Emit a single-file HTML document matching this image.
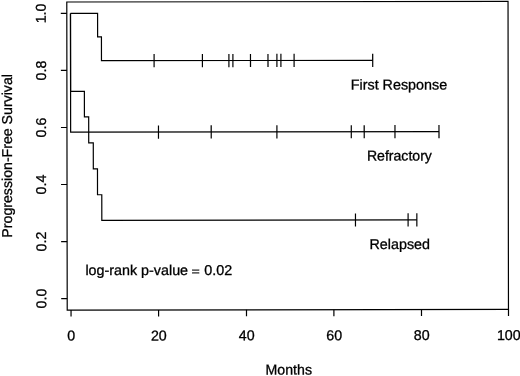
<!DOCTYPE html>
<html lang="en"><head><meta charset="utf-8"><title>Progression-Free Survival</title>
<style>html,body{margin:0;padding:0;background:#fff;overflow:hidden}svg{display:block}</style></head>
<body>
<svg width="520" height="376" viewBox="0 0 520 376">
<rect width="520" height="376" fill="#fff"/>
<g transform="rotate(-0.08 287.5 155.8)">
<g fill="none" stroke="#000" stroke-width="1.2" stroke-linecap="butt" stroke-linejoin="miter">
<rect x="67.0" y="1.7" width="441.25" height="308.05"/>
<path d="M70.83 309.75V316.25"/>
<path d="M158.38 309.75V316.25"/>
<path d="M246.28 309.75V316.25"/>
<path d="M333.68 309.75V316.25"/>
<path d="M421.28 309.75V316.25"/>
<path d="M508.28 309.75V316.25"/>
<path d="M67.0 298.25H61.0"/>
<path d="M67.0 241.23H61.0"/>
<path d="M67.0 184.2H61.0"/>
<path d="M67.0 127.18H61.0"/>
<path d="M67.0 70.15H61.0"/>
<path d="M67.0 13.13H61.0"/>
<path d="M70.68 13.13H97.78V36.7H101.6V60.45H372.83"/>
<path d="M154.23 53.85V67.05"/>
<path d="M202.53 53.85V67.05"/>
<path d="M229.03 53.85V67.05"/>
<path d="M233.03 53.85V67.05"/>
<path d="M250.63 53.85V67.05"/>
<path d="M268.13 53.85V67.05"/>
<path d="M277.03 53.85V67.05"/>
<path d="M281.03 53.85V67.05"/>
<path d="M294.23 53.85V67.05"/>
<path d="M372.83 53.85V67.05"/>
<path d="M70.68 13.13V131.85H439.03"/>
<path d="M158.5 125.25V138.45"/>
<path d="M211.23 125.25V138.45"/>
<path d="M276.93 125.25V138.45"/>
<path d="M351.33 125.25V138.45"/>
<path d="M364.23 125.25V138.45"/>
<path d="M395.0 125.25V138.45"/>
<path d="M439.03 125.25V138.45"/>
<path d="M70.68 13.13V91.15H84.47V116.5H88.74V142.6H93.3V168.63H97.46V194.5H101.73V220.1H416.76"/>
<path d="M355.37 213.5V226.7"/>
<path d="M408.0 213.5V226.7"/>
<path d="M416.76 213.5V226.7"/>
</g>
<g font-family="'Liberation Sans', Arial, Helvetica, sans-serif" font-size="14.25" fill="#000" stroke="#000" stroke-width="0.3">
<text x="71.08" y="340.3" text-anchor="middle">0</text>
<text x="158.63" y="340.3" text-anchor="middle">20</text>
<text x="246.53" y="340.3" text-anchor="middle">40</text>
<text x="333.93" y="340.3" text-anchor="middle">60</text>
<text x="421.53" y="340.3" text-anchor="middle">80</text>
<text x="508.53" y="340.3" text-anchor="middle">100</text>
<text transform="translate(46 298.25) rotate(-90)" text-anchor="middle">0.0</text>
<text transform="translate(46 241.23) rotate(-90)" text-anchor="middle">0.2</text>
<text transform="translate(46 184.2) rotate(-90)" text-anchor="middle">0.4</text>
<text transform="translate(46 127.18) rotate(-90)" text-anchor="middle">0.6</text>
<text transform="translate(46 70.15) rotate(-90)" text-anchor="middle">0.8</text>
<text transform="translate(46 13.13) rotate(-90)" text-anchor="middle">1.0</text>
<text transform="translate(12 155.45) rotate(-90)" text-anchor="middle" textLength="163.6" lengthAdjust="spacingAndGlyphs">Progression-Free Survival</text>
<text x="265.25" y="374.5" textLength="46.4" lengthAdjust="spacingAndGlyphs">Months</text>
<text x="350.9" y="89.6" textLength="96.3" lengthAdjust="spacingAndGlyphs">First Response</text>
<text x="366.9" y="160.7" textLength="65" lengthAdjust="spacingAndGlyphs">Refractory</text>
<text x="369.4" y="249.2" textLength="60.5" lengthAdjust="spacingAndGlyphs">Relapsed</text>
<text x="85.25" y="274.8" textLength="102.65" lengthAdjust="spacingAndGlyphs">log-rank p-value</text>
<text transform="translate(191.3 275) scale(1 0.8)">=</text>
<text x="204" y="274.8" textLength="28" lengthAdjust="spacingAndGlyphs">0.02</text>
</g></g></svg>
</body></html>
